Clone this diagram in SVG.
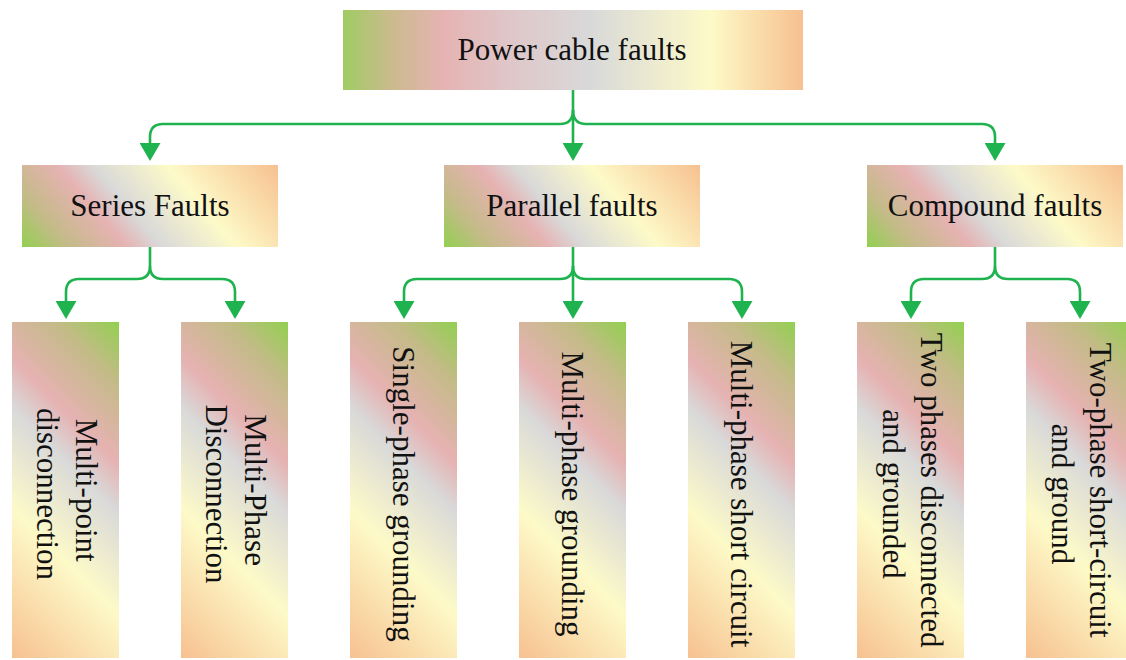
<svg xmlns="http://www.w3.org/2000/svg" xmlns:xlink="http://www.w3.org/1999/xlink" width="1126" height="660" viewBox="0 0 1126 660">
  <style>
    .lbl { font-family: "Liberation Serif", "Times New Roman", serif; font-size: 31px; fill: #111; }
    .mid { text-anchor: middle; }
    .wire { fill: none; stroke: #1fb34f; stroke-width: 2.6; }
    .arrow { marker-end: url(#tip); }
  </style>
  <defs>
    <!-- shared colour ramp: green, olive, pink, grey, pale yellow, peach -->
    <linearGradient id="ramp">
      <stop offset="0" stop-color="#92d050"/>
      <stop offset="0.14" stop-color="#c3bb87"/>
      <stop offset="0.32" stop-color="#e6b2b2"/>
      <stop offset="0.43" stop-color="#d9d9d9"/>
      <stop offset="0.66" stop-color="#fdfac8"/>
      <stop offset="1" stop-color="#f7c08f"/>
    </linearGradient>
    <!-- wide category boxes (256 x 82), green at bottom-left -->
    <linearGradient id="fill-wide" xlink:href="#ramp" gradientUnits="userSpaceOnUse" x1="0" y1="82" x2="188.5" y2="-79.2"/>
    <!-- tall leaf boxes (107 x 336), green at top-right -->
    <linearGradient id="fill-tall" xlink:href="#ramp" gradientUnits="userSpaceOnUse" x1="107" y1="0" x2="-115.5" y2="222.5"/>
    <!-- root box, horizontal ramp -->
    <linearGradient id="fill-root" gradientUnits="userSpaceOnUse" x1="0" y1="0" x2="460" y2="0">
      <stop offset="0" stop-color="#9fcc62"/>
      <stop offset="0.1" stop-color="#c9bb8c"/>
      <stop offset="0.22" stop-color="#e6b3b3"/>
      <stop offset="0.36" stop-color="#dfc6c8"/>
      <stop offset="0.54" stop-color="#d9d9d9"/>
      <stop offset="0.8" stop-color="#fdfac8"/>
      <stop offset="1" stop-color="#f7c08f"/>
    </linearGradient>
    <marker id="tip" markerUnits="userSpaceOnUse" markerWidth="18" markerHeight="21" viewBox="0 0 18 21" refX="10" refY="10.5" orient="auto">
      <path d="M0,0 L18,10.5 L0,21 Z" fill="#1fb34f"/>
    </marker>
  </defs>

  <rect width="1126" height="660" fill="#fff"/>

  <g id="connectors">
    <!-- root to categories -->
    <path class="wire arrow" d="M573,90 V153"/>
    <path class="wire arrow" d="M573,110 Q573,124 560,124 H163 Q150,124 150,137 V153"/>
    <path class="wire arrow" d="M573,110 Q573,124 586,124 H982 Q995,124 995,137 V153"/>
    <!-- series faults -->
    <path class="wire arrow" d="M150,247 V266 Q150,279 137,279 H79 Q66,279 66,292 V311"/>
    <path class="wire arrow" d="M150,266 Q150,279 163,279 H222 Q235,279 235,292 V311"/>
    <!-- parallel faults -->
    <path class="wire arrow" d="M573,247 V311"/>
    <path class="wire arrow" d="M573,266 Q573,279 560,279 H417 Q404,279 404,292 V311"/>
    <path class="wire arrow" d="M573,266 Q573,279 586,279 H729 Q742,279 742,292 V311"/>
    <!-- compound faults -->
    <path class="wire arrow" d="M995,247 V266 Q995,279 982,279 H924 Q911,279 911,292 V311"/>
    <path class="wire arrow" d="M995,266 Q995,279 1008,279 H1067 Q1080,279 1080,292 V311"/>
  </g>

  <g id="node-root" transform="translate(343,10)">
    <rect width="460" height="80" fill="url(#fill-root)"/>
    <text class="lbl mid" x="229" y="50">Power cable faults</text>
  </g>

  <g id="node-series" transform="translate(22,165)">
    <rect width="256" height="82" fill="url(#fill-wide)"/>
    <text class="lbl mid" x="128" y="51">Series Faults</text>
  </g>
  <g id="node-parallel" transform="translate(444,165)">
    <rect width="256" height="82" fill="url(#fill-wide)"/>
    <text class="lbl mid" x="128" y="51">Parallel faults</text>
  </g>
  <g id="node-compound" transform="translate(867,165)">
    <rect width="256" height="82" fill="url(#fill-wide)"/>
    <text class="lbl mid" x="128" y="51">Compound faults</text>
  </g>

  <!-- leaf boxes: text runs top to bottom -->
  <g id="node-multipoint" transform="translate(12,322)">
    <rect width="107" height="336" fill="url(#fill-tall)"/>
    <text class="lbl mid" transform="translate(53.5,172) rotate(90)">
      <tspan x="0" y="-10">Multi-point</tspan>
      <tspan x="0" y="29">disconnection</tspan>
    </text>
  </g>
  <g id="node-multiphase-disc" transform="translate(181,322)">
    <rect width="107" height="336" fill="url(#fill-tall)"/>
    <text class="lbl mid" transform="translate(53.5,172) rotate(90)">
      <tspan x="0" y="-10">Multi-Phase</tspan>
      <tspan x="0" y="29">Disconnection</tspan>
    </text>
  </g>
  <g id="node-single-ground" transform="translate(350,322)">
    <rect width="107" height="336" fill="url(#fill-tall)"/>
    <text class="lbl mid" transform="translate(53.5,172) rotate(90)" x="0" y="10.5">Single-phase grounding</text>
  </g>
  <g id="node-multi-ground" transform="translate(519,322)">
    <rect width="107" height="336" fill="url(#fill-tall)"/>
    <text class="lbl mid" transform="translate(53.5,172) rotate(90)" x="0" y="10.5">Multi-phase grounding</text>
  </g>
  <g id="node-multi-short" transform="translate(688,322)">
    <rect width="107" height="336" fill="url(#fill-tall)"/>
    <text class="lbl mid" transform="translate(53.5,172) rotate(90)" x="0" y="10.5">Multi-phase short circuit</text>
  </g>
  <g id="node-two-disc" transform="translate(857,322)">
    <rect width="107" height="336" fill="url(#fill-tall)"/>
    <text class="lbl mid" transform="translate(53.5,172) rotate(90)">
      <tspan x="0" y="-10">Two phases disconnected</tspan>
      <tspan x="0" y="28">and grounded</tspan>
    </text>
  </g>
  <g id="node-two-short" transform="translate(1026,322)">
    <rect width="107" height="336" fill="url(#fill-tall)"/>
    <text class="lbl mid" transform="translate(53.5,172) rotate(90)">
      <tspan x="0" y="-10">Two-phase short-circuit</tspan>
      <tspan x="0" y="28">and ground</tspan>
    </text>
  </g>
</svg>
